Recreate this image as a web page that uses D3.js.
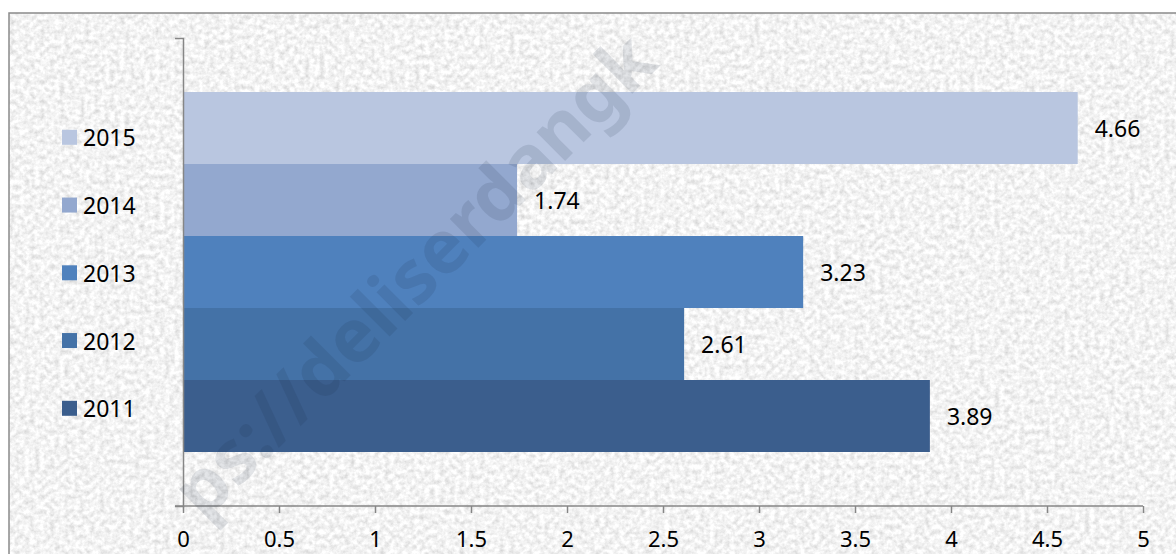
<!DOCTYPE html>
<html>
<head>
<meta charset="utf-8">
<script src="https://cdn.jsdelivr.net/npm/d3@7"></script>
<style>
  html, body { margin: 0; padding: 0; background: #ffffff; }
  svg { display: block; }
  text { font-family: "Noto Sans", "Open Sans", sans-serif; }
</style>
</head>
<body>
<svg id="chart" width="1176" height="554"></svg>
<script>
// ---- data ----
const years = ["2015", "2014", "2013", "2012", "2011"];
const values = [4.66, 1.74, 3.23, 2.61, 3.89];
const colors = ["#b9c6e0", "#93a8cf", "#4f81bd", "#4472a7", "#3b5e8d"];
const xTicks = [0, 0.5, 1, 1.5, 2, 2.5, 3, 3.5, 4, 4.5, 5];
const tickLabels = ["0", "0.5", "1", "1.5", "2", "2.5", "3", "3.5", "4", "4.5", "5"];
const watermark = "ps://deliserdangk";   // visible part of the diagonal watermark

const W = 1176, H = 554;
const svg = d3.select("#chart");
const defs = svg.append("defs");

// paper-like texture
const f = defs.append("filter").attr("id", "tex")
  .attr("x", 0).attr("y", 0).attr("width", "100%").attr("height", "100%");
f.append("feTurbulence").attr("type", "fractalNoise")
  .attr("baseFrequency", "0.2").attr("numOctaves", 3).attr("seed", 11).attr("result", "n");
f.append("feColorMatrix").attr("in", "n").attr("type", "matrix")
  .attr("values", "0.55 0 0 0 0.62  0.55 0 0 0 0.62  0.55 0 0 0 0.62  0 0 0 0 1");

// chart area
const area = { x: 9, y: 13, w: 1200, h: 600 };
svg.append("rect").attr("x", area.x).attr("y", area.y)
  .attr("width", area.w).attr("height", area.h)
  .attr("fill", "#ebebeb").attr("filter", "url(#tex)");
svg.append("rect").attr("x", area.x).attr("y", area.y)
  .attr("width", area.w).attr("height", area.h)
  .attr("fill", "none").attr("stroke", "#8a8a8a").attr("stroke-width", 1.5);

// plot geometry
const plot = { left: 183, right: 1143, top: 38, bottom: 506 };
const x = d3.scaleLinear().domain([0, 5]).range([plot.left, plot.right]);
const barH = (plot.bottom - plot.top) / 6.5; // gap width 150%
const y = d3.scaleBand().domain(years)
  .range([plot.top + 0.75 * barH, plot.bottom - 0.75 * barH]).padding(0);

// bars
const g = svg.append("g");
g.selectAll("rect.bar").data(years).enter().append("rect")
  .attr("class", "bar")
  .attr("x", x(0))
  .attr("y", d => y(d))
  .attr("width", (d, i) => x(values[i]) - x(0))
  .attr("height", y.bandwidth())
  .attr("fill", (d, i) => colors[i]);

// data labels
g.selectAll("text.lbl").data(years).enter().append("text")
  .attr("class", "lbl")
  .attr("x", (d, i) => x(values[i]) + 17)
  .attr("y", d => y(d) + y.bandwidth() / 2 + 8.5)
  .attr("font-size", 23).attr("fill", "#000")
  .text((d, i) => values[i].toFixed(2));

// axes
const axisColor = "#868686";
const xAxis = d3.axisBottom(x).tickValues(xTicks)
  .tickFormat((d, i) => tickLabels[i]).tickSize(7).tickSizeOuter(0);
const ax = svg.append("g").attr("transform", `translate(0,${plot.bottom})`).call(xAxis);
ax.select(".domain").remove();
ax.append("line").attr("x1", plot.left - 8).attr("x2", plot.right)
  .attr("y1", 0).attr("y2", 0).attr("stroke", axisColor).attr("stroke-width", 1.5);
ax.selectAll(".tick line").attr("stroke", axisColor).attr("stroke-width", 1.5);
ax.selectAll(".tick text").attr("font-size", 22).attr("fill", "#000")
  .attr("font-family", "'Noto Sans', sans-serif").attr("dy", null).attr("y", 41);

const yCat = d3.scaleBand().domain([""]).range([plot.bottom, plot.top]);
const yAxis = d3.axisLeft(yCat).tickSize(0).tickSizeOuter(8).tickFormat("");
const ay = svg.append("g").attr("transform", `translate(${plot.left},0)`).call(yAxis);
ay.select(".domain").attr("stroke", axisColor).attr("stroke-width", 1.5);

// legend
const leg = svg.append("g");
const legTop = 137.3, legStep = 67.75;
years.forEach((yr, i) => {
  const cy = legTop + i * legStep;
  leg.append("rect").attr("x", 62).attr("y", cy - 7.5).attr("width", 15).attr("height", 15)
    .attr("fill", colors[i]);
  leg.append("text").attr("x", 83).attr("y", cy + 9).attr("font-size", 23)
    .attr("fill", "#000").text(yr);
});

// watermark
svg.append("text")
  .attr("transform", "translate(204,522) rotate(-45)")
  .attr("font-size", 74).attr("font-weight", "bold")
  .attr("fill", "#1a2a40").attr("fill-opacity", 0.12)
  .text(watermark);
</script>
</body>
</html>
